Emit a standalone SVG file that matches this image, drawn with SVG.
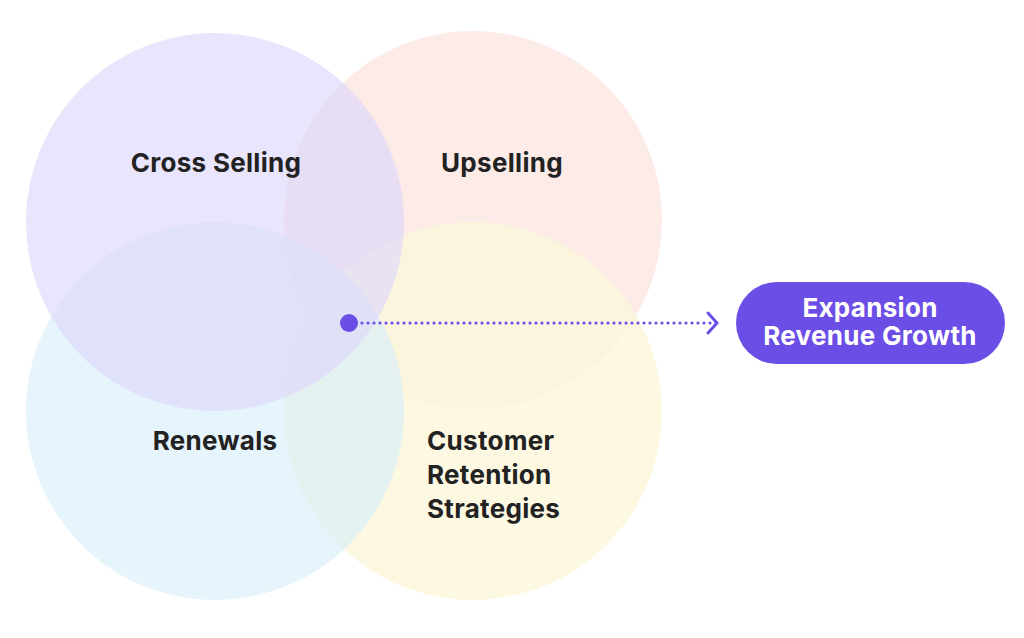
<svg xmlns="http://www.w3.org/2000/svg" width="1024" height="638" viewBox="0 0 1024 638">
<style>
.c{fill-opacity:0.65}
.lbl{font-family:Inter,"Liberation Sans",Arial,sans-serif;font-weight:700;font-size:26px;letter-spacing:0.3px;fill:#222222}
.pl{font-family:Inter,"Liberation Sans",Arial,sans-serif;font-weight:700;font-size:26px;letter-spacing:0.3px;fill:#ffffff}
</style>
<defs>
<marker id="chev" markerWidth="14" markerHeight="24" refX="11" refY="12" orient="auto" markerUnits="userSpaceOnUse">
<path d="M2,2 L11,12 L2,22" fill="none" stroke="#6B4EE6" stroke-width="3" stroke-linecap="round" stroke-linejoin="round"/>
</marker>
</defs>
<rect width="1024" height="638" fill="#ffffff"/>
<g id="upselling">
<circle class="c" cx="473" cy="220" r="189" fill="#FAE0DA"/>
</g>
<g id="customer-retention">
<circle cx="473" cy="411" r="189" fill="#FCF7DC" fill-opacity="0.85"/>
</g>
<g id="renewals">
<circle class="c" cx="215" cy="411" r="189" fill="#D9EEFA"/>
</g>
<g id="cross-selling">
<circle class="c" cx="215" cy="222" r="189" fill="#DDD7FA"/>
</g>
<g id="labels">
<text class="lbl" x="216" y="172" text-anchor="middle">Cross Selling</text>
<text class="lbl" x="502" y="172" text-anchor="middle">Upselling</text>
<text class="lbl" x="215" y="450" text-anchor="middle">Renewals</text>
<text class="lbl" x="427" y="450">Customer</text>
<text class="lbl" x="427" y="484">Retention</text>
<text class="lbl" x="427" y="518">Strategies</text>
</g>
<g id="connectors">
<circle cx="349" cy="323" r="9" fill="#6B4EE6"/>
<line x1="362" y1="323" x2="717" y2="323" stroke="#6B4EE6" stroke-width="3.2" stroke-linecap="round" stroke-dasharray="0 6" marker-end="url(#chev)"/>
</g>
<g id="expansion-revenue-growth">
<rect x="736" y="282" width="269" height="82" rx="41" fill="#6B4EE6"/>
<text class="pl" x="870" y="317" text-anchor="middle">Expansion</text>
<text class="pl" x="870" y="345" text-anchor="middle">Revenue Growth</text>
</g>
</svg>
